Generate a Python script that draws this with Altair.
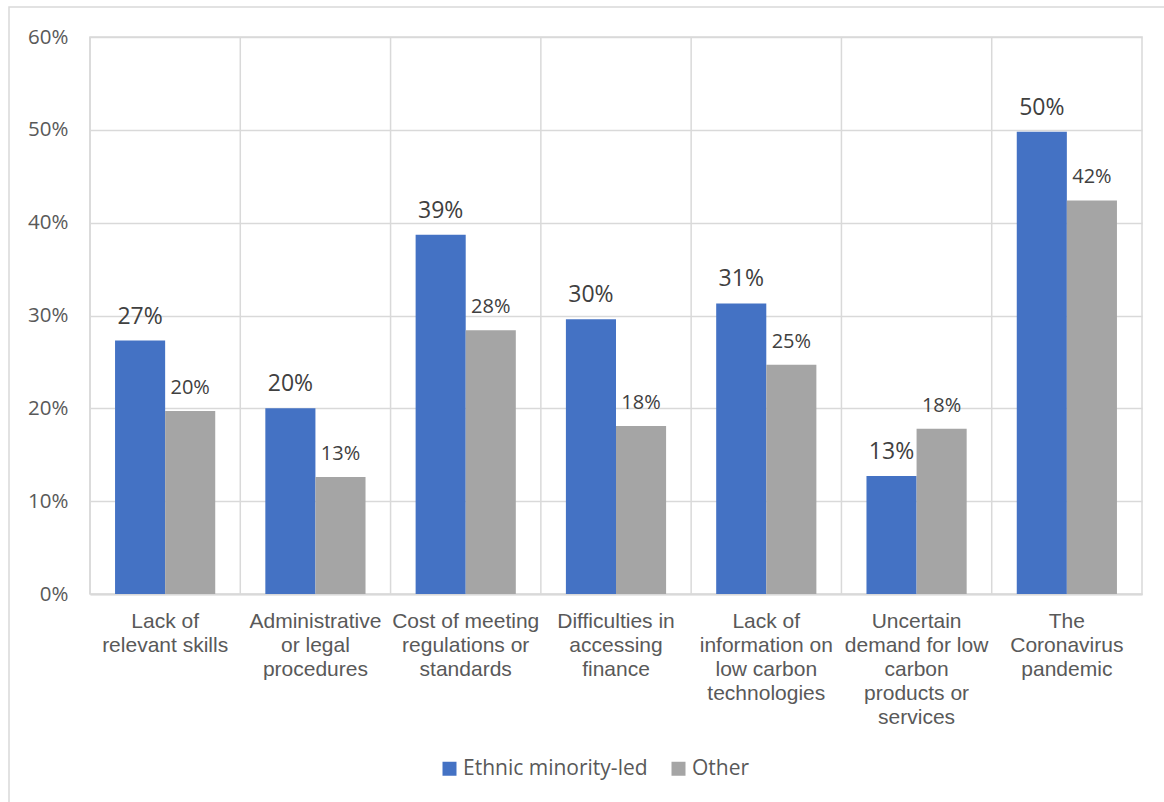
import altair as alt
import pandas as pd

categories = [
    "Lack of\nrelevant skills",
    "Administrative\nor legal\nprocedures",
    "Cost of meeting\nregulations or\nstandards",
    "Difficulties in\naccessing\nfinance",
    "Lack of\ninformation on\nlow carbon\ntechnologies",
    "Uncertain\ndemand for low\ncarbon\nproducts or\nservices",
    "The\nCoronavirus\npandemic",
]
series = ["Ethnic minority-led", "Other"]
ethnic_minority = [0.273, 0.200, 0.387, 0.296, 0.313, 0.127, 0.498]
other = [0.197, 0.126, 0.284, 0.181, 0.247, 0.178, 0.424]
y_ticks = [0, 0.1, 0.2, 0.3, 0.4, 0.5, 0.6]
colors = ["#4472C4", "#A5A5A5"]

rows = []
for c, a, b in zip(categories, ethnic_minority, other):
    rows.append({"cat": c, "series": series[0], "value": a})
    rows.append({"cat": c, "series": series[1], "value": b})
df = pd.DataFrame(rows)
cat_df = pd.DataFrame({"cat": categories})

GRID = "#D9D9D9"

x_enc = alt.X(
    "cat:N",
    sort=categories,
    scale=alt.Scale(paddingInner=0, paddingOuter=0),
    axis=alt.Axis(
        title=None,
        labelAngle=0,
        labelAlign="center",
        ticks=False,
        tickSize=0,
        labelPadding=33,
        labelBaseline="alphabetic",
        labelFont="Liberation Sans",
        labelFontSize=21,
        labelLineHeight=24,
        labelColor="#595959",
        labelExpr="split(datum.label, '\\n')",
        labelLimit=300,
        domainColor=GRID,
        domainWidth=2,
        grid=False,
    ),
)
xoff = alt.XOffset(
    "series:N",
    sort=series,
    scale=alt.Scale(paddingInner=0, paddingOuter=0.5),
)
y_enc = alt.Y(
    "value:Q",
    scale=alt.Scale(domain=[0, 0.6], nice=False),
    axis=alt.Axis(
        title=None,
        values=y_ticks,
        format=".0%",
        ticks=False,
        tickSize=0,
        domain=False,
        labelPadding=22,
        labelFont="Open Sans",
        labelFontSize=20.5,
        labelColor="#595959",
        gridColor=GRID,
        gridWidth=1.5,
    ),
)

bars = alt.Chart(df).mark_bar().encode(
    x=x_enc,
    xOffset=xoff,
    y=y_enc,
    color=alt.Color(
        "series:N",
        sort=series,
        scale=alt.Scale(domain=series, range=colors),
        legend=alt.Legend(
            title=None,
            orient="none",
            direction="horizontal",
            legendX=349,
            legendY=721,
            symbolType="square",
            symbolSize=196,
            symbolStrokeWidth=0,
            labelFont="Open Sans",
            labelFontSize=21,
            labelColor="#595959",
            labelOffset=3,
            labelLimit=400,
            columnPadding=20,
            padding=0,
        ),
    ),
)

labels = alt.Chart(df).mark_text(
    baseline="alphabetic", dy=-17, font="Open Sans", color="#404040"
).encode(
    x=alt.X("cat:N", sort=categories),
    xOffset=alt.XOffset("series:N", sort=series),
    y=alt.Y("value:Q"),
    text=alt.Text("value:Q", format=".0%"),
    size=alt.condition(
        alt.datum.series == series[0], alt.value(23), alt.value(20)
    ),
)

vgrid = alt.Chart(cat_df).mark_rule(color=GRID, strokeWidth=1.5).encode(
    x=alt.X("cat:N", sort=categories, bandPosition=0),
)

border = alt.Chart(cat_df.head(1)).mark_rect(
    fill=None, stroke=GRID, strokeWidth=1.5, clip=False
).encode(
    x=alt.value(-81),
    x2=alt.value(1100),
    y=alt.value(-30),
    y2=alt.value(790),
)

chart = (
    alt.layer(border, vgrid, bars, labels)
    .properties(
        width=1052,
        height=557,
        autosize=alt.AutoSizeParams(type="none"),
        padding={"left": 90, "top": 37, "right": 22, "bottom": 208},
        background="white",
    )
    .configure_view(stroke=GRID, strokeWidth=1.5)
)

chart.save("out.html", embed_options={"renderer": "svg", "actions": False})
